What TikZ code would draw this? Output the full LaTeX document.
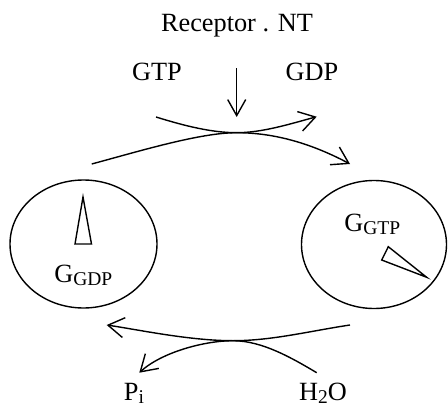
\documentclass[tikz,border=0pt]{standalone}
\usepackage{fontspec}
\setmainfont{Liberation Serif}
\usetikzlibrary{arrows.meta}
\newcommand{\mysub}[1]{\raisebox{-2.5pt}{\fontsize{19.5}{20}\selectfont #1}}
\begin{document}
\begin{tikzpicture}[x=1pt,y=-1pt,line width=1.4pt,
  lbl/.style={font=\fontsize{26.3}{30}\selectfont,inner sep=0pt,anchor=base},
  barb/.style={-{Straight Barb[length=16pt,width=20pt,line width=1.4pt]}}]
\useasboundingbox (0,0) rectangle (448,407);
% cells
\coordinate (gdpcell) at (83.5,244);
\coordinate (gtpcell) at (374,244.5);
\draw (gdpcell) ellipse [x radius=73.5, y radius=64];
\draw (gtpcell) ellipse [x radius=72.5, y radius=64];
% needles
\draw (75,244) -- (91.5,244) -- (83,197) -- cycle;
\draw (381.7,260) -- (388.3,246.7) -- (426.7,277.3) -- cycle;
% labels
\node[lbl] (rec) at (237,31) {Receptor . NT};
\node[lbl] (gtp) at (157,80) {GTP};
\node[lbl] (gdp) at (312,80) {GDP};
\node[lbl] (ggdp) at (83.3,282.7) {G\mysub{GDP}};
\node[lbl] (ggtp) at (372.3,231.7) {G\mysub{GTP}};
\node[lbl] (pi) at (134,400.5) {P\mysub{i}};
\node[lbl] (h2o) at (323,400.5) {H\mysub{2}O};
% top
\coordinate (X) at (236.7,132.7);
\coordinate (A1) at (156,117);
\coordinate (B1) at (316.7,116.7);
\coordinate (A2) at (91.7,164);
\coordinate (B2) at (350,164);
\coordinate (D0) at (236.7,68.3);
\coordinate (D1) at (236.7,117);
\draw[-{Straight Barb[length=16pt,width=18pt,line width=1.4pt]}] (D0) -- (D1);
\draw[barb] (A1) .. controls (185,126) and (212,132.7) .. (X)
  .. controls (262,132.7) and (290,124) .. (B1);
\draw[barb] (A2) .. controls (140,151) and (200,132.7) .. (X)
  .. controls (280,132.7) and (318,147) .. (B2);
% bottom
\coordinate (Y) at (233,340.7);
\coordinate (S3) at (350,325);
\coordinate (E3) at (106.7,325);
\coordinate (S4) at (316.7,372.7);
\coordinate (E4) at (139.3,372.7);
\draw[barb] (S3) .. controls (310,331) and (272,340.7) .. (Y)
  .. controls (190,340.7) and (140,330) .. (E3);
\draw[barb] (S4) .. controls (292,358) and (262,340.7) .. (Y)
  .. controls (205,340.7) and (162,352) .. (E4);
\end{tikzpicture}
\end{document}
